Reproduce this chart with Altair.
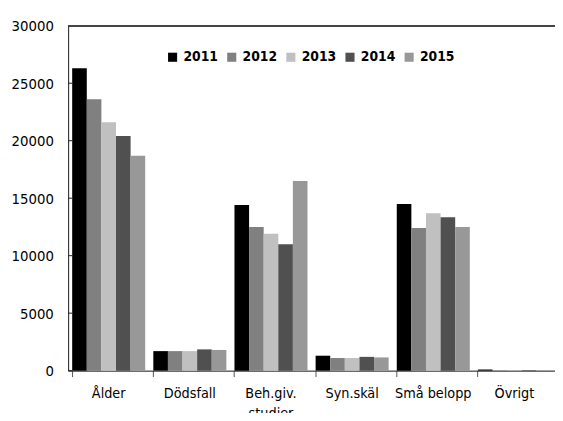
import altair as alt
import pandas as pd

categories = ["Ålder", "Dödsfall", "Beh.giv. studier", "Syn.skäl", "Små belopp", "Övrigt"]
years = ["2011", "2012", "2013", "2014", "2015"]
v2011 = [26300, 1700, 14400, 1300, 14500, 100]
v2012 = [23600, 1700, 12500, 1100, 12400, 30]
v2013 = [21600, 1700, 11900, 1100, 13700, 20]
v2014 = [20400, 1850, 11000, 1200, 13350, 50]
v2015 = [18700, 1800, 16500, 1150, 12500, 50]
colors = ["#000000", "#808080", "#c0c0c0", "#505050", "#989898"]
y_ticks = [0, 5000, 10000, 15000, 20000, 25000, 30000]

series = [v2011, v2012, v2013, v2014, v2015]
rows = []
for yr, vals in zip(years, series):
    for c, v in zip(categories, vals):
        rows.append({"kat": c, "år": yr, "antal": v})
df = pd.DataFrame(rows)

FONT = "DejaVu Sans Condensed, sans-serif"

W, H = 494, 350

yscale = alt.Scale(domain=[0, 30000], nice=False)

bars = alt.Chart(df).mark_bar().encode(
    x=alt.X("kat:N", sort=categories, title=None,
            scale=alt.Scale(paddingInner=0.1, paddingOuter=0.05),
            axis=alt.Axis(labelAngle=0, labelFont=FONT, labelFontSize=14.5,
                          labelColor="#000", domainColor="#222", tickColor="#555",
                          tickSize=6, bandPosition=0, labelPadding=10,
                          labelLineHeight=21, labelBaseline="top",
                          labelExpr="datum.label == 'Beh.giv. studier' ? ['Beh.giv.', 'studier'] : datum.label")),
    xOffset=alt.XOffset("år:N", sort=years),
    y=alt.Y("antal:Q", scale=yscale, title=None,
            axis=alt.Axis(values=y_ticks, format="d", grid=False, labelFont=FONT,
                          labelFontSize=15, labelColor="#000", domainColor="#222",
                          ticks=False, labelPadding=15)),
    color=alt.Color("år:N", sort=years,
                    scale=alt.Scale(domain=years, range=colors),
                    legend=alt.Legend(title=None, orient="none", direction="horizontal",
                                      legendX=99, legendY=25, symbolType="square",
                                      symbolSize=85, symbolStrokeWidth=0,
                                      labelFont=FONT, labelFontSize=14,
                                      labelFontWeight="bold", labelColor="#000",
                                      columnPadding=6, symbolOffset=0, labelOffset=4)),
)

tick_df = pd.DataFrame({"v": y_ticks})
yticks = alt.Chart(tick_df).mark_rule(color="#222", strokeWidth=1).encode(
    y=alt.Y("v:Q", scale=yscale),
    x=alt.value(0), x2=alt.value(4),
)

top = alt.Chart(tick_df).mark_rule(color="#444", strokeWidth=1.5).encode(
    y=alt.value(0), x=alt.value(0), x2=alt.value(W),
)

chart = alt.layer(bars, yticks, top).properties(
    width=W, height=H,
    autosize="none",
    padding={"left": 61, "top": 15, "right": 0, "bottom": 40},
).configure_view(stroke=None).configure(background="white")

chart.save("out.html", embed_options={"renderer": "svg", "actions": False})
